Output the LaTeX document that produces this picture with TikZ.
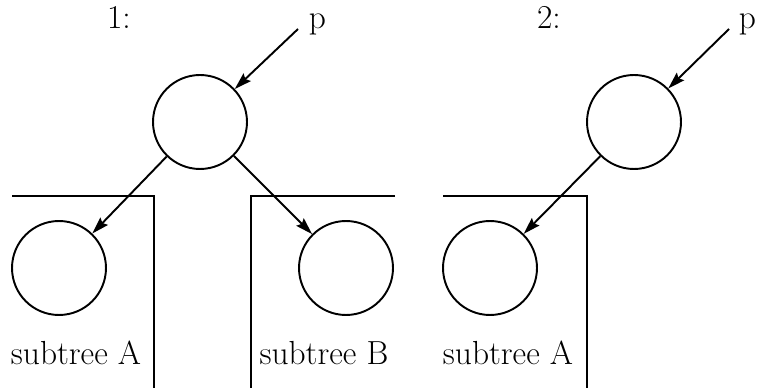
\documentclass[tikz,border=0pt]{standalone}
\usetikzlibrary{arrows.meta}
\begin{document}
\begin{tikzpicture}[x=0.02cm, y=-0.02cm, line width=1.1pt,
		knoten/.style={draw, circle, minimum size=1.88cm, inner sep=0pt},
		zeiger/.style={-{Stealth[length=0.34cm, width=0.21cm, inset=0.05cm]}},
		schrift/.style={font=\fontsize{19}{22}\selectfont, inner sep=0pt}]
				\useasboundingbox (0,0) rectangle (757,388);
				% Fall 1
				\node[schrift, anchor=base] (nr1) at (119,29) {1:};
				\node[schrift, anchor=base west, inner xsep=0.2cm] (p1) at (298,29) {p};
				\node[knoten] (wurzel1) at (200,122) {};
				\node[knoten] (a1) at (59,268) {};
				\node[knoten] (b1) at (346,268) {};
				\draw (12,196) -- (154,196) -- (154,388);
				\draw (395,196) -- (251,196) -- (251,388);
				\node[schrift, anchor=base] (ta1) at (76,364) {subtree A};
				\node[schrift, anchor=base] (tb1) at (324,364) {subtree B};
				\draw[zeiger] (p1.base west) -- (wurzel1);
				\draw[zeiger] (wurzel1) -- (a1);
				\draw[zeiger] (wurzel1) -- (b1);
				% Fall 2
				\node[schrift, anchor=base] (nr2) at (549,29) {2:};
				\node[schrift, anchor=base west, inner xsep=0.18cm] (p2) at (729,29) {p};
				\node[knoten] (wurzel2) at (634,122) {};
				\node[knoten] (a2) at (490,268) {};
				\draw (443,196) -- (587,196) -- (587,388);
				\node[schrift, anchor=base] (ta2) at (508,364) {subtree A};
				\draw[zeiger] (p2.base west) -- (wurzel2);
				\draw[zeiger] (wurzel2) -- (a2);
\end{tikzpicture}
\end{document}
